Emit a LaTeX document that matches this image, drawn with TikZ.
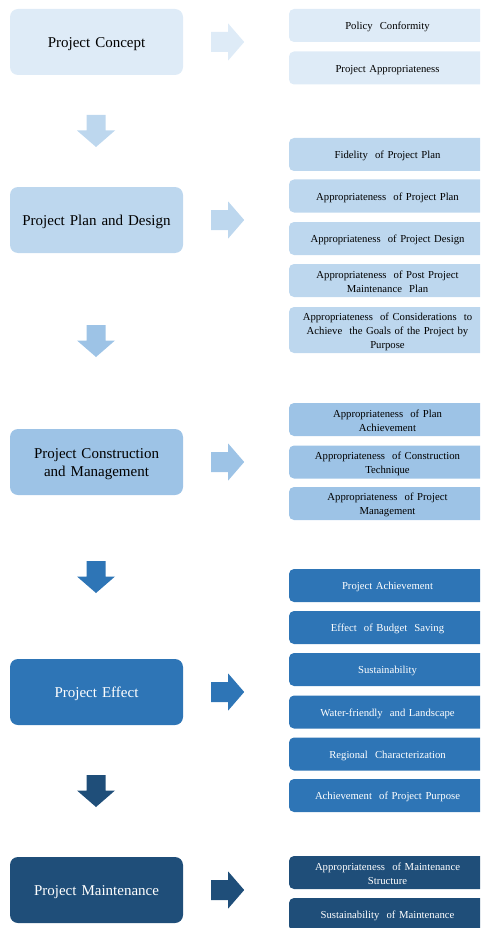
\documentclass[tikz,border=0pt]{standalone}
\usepackage{fontspec}
\setmainfont{Liberation Serif}
\usetikzlibrary{calc}

\definecolor{cA}{HTML}{DEEBF7}
\definecolor{cB}{HTML}{BDD7EE}
\definecolor{cC}{HTML}{9DC3E6}
\definecolor{cD}{HTML}{2E75B6}
\definecolor{cE}{HTML}{1F4E79}

\tikzset{
  stage/.style={rounded corners=8pt, minimum width=173pt, minimum height=66pt,
    inner sep=0pt, text width=165pt, align=center,
    font=\fontsize{15}{18}\selectfont,
    execute at begin node={\rule{0pt}{14.5pt}}},
  item/.style={rounded corners=5pt, minimum width=197pt, minimum height=33pt,
    inner sep=0pt, text width=182pt, align=center,
    font=\fontsize{10.7}{14}\selectfont,
    execute at begin node={\rule{0pt}{11pt}}},
  tall/.style={minimum height=46pt},
  rarrow/.pic={\fill[#1] (0,-10) -- (17,-10) -- (17,-18.5) -- (33,0) -- (17,18.5) -- (17,10) -- (0,10) -- cycle;},
  darrow/.pic={\fill[#1] (-9.5,0) -- (9.5,0) -- (9.5,15.5) -- (19,15.5) -- (0,32) -- (-19,15.5) -- (-9.5,15.5) -- cycle;}
}

\begin{document}
\begin{tikzpicture}[x=1pt, y=-1pt]
\useasboundingbox (0,0) rectangle (480,928);
\clip (0,0) rectangle (480,928);

% stages
\node[stage, fill=cA] (s1) at (96.5,42) {Project Concept};
\node[stage, fill=cB] (s2) at (96.5,220) {Project Plan and Design};
\node[stage, fill=cC] (s3) at (96.5,462) {Project Construction\\and Management};
\node[stage, fill=cD, text=white] (s4) at (96.5,692) {Project Effect};
\node[stage, fill=cE, text=white] (s5) at (96.5,890) {Project Maintenance};

% arrows from each stage to its criteria
\pic at ($(s1.east)+(28,0)$) {rarrow=cA};
\pic at ($(s2.east)+(28,0)$) {rarrow=cB};
\pic at ($(s3.east)+(28,0)$) {rarrow=cC};
\pic at ($(s4.east)+(28,0)$) {rarrow=cD};
\pic at ($(s5.east)+(28,0)$) {rarrow=cE};

% arrows between stages
\pic at (96,115) {darrow=cB};
\pic at (96,325) {darrow=cC};
\pic at (96,561) {darrow=cD};
\pic at (96,775) {darrow=cE};

% criteria: concept
\node[item, fill=cA] (a1) at (387.5,25.5) {Policy\ \ Conformity};
\node[item, fill=cA] (a2) at (387.5,68) {Project Appropriateness};

% criteria: plan and design
\node[item, fill=cB] (b1) at (387.5,154.5) {Fidelity\ \ of Project Plan};
\node[item, fill=cB] (b2) at (387.5,196) {Appropriateness\ \ of Project Plan};
\node[item, fill=cB] (b3) at (387.5,238.5) {Appropriateness\ \ of Project Design};
\node[item, fill=cB] (b4) at (387.5,280.5) {Appropriateness\ \ of Post Project\\Maintenance\ \ Plan};
\node[item, fill=cB, tall] (b5) at (387.5,330) {Appropriateness\ \ of Considerations\ \ to\\Achieve\ \ the Goals of the Project by\\Purpose};

% criteria: construction and management
\node[item, fill=cC] (c1) at (387.5,419.5) {Appropriateness\ \ of Plan\\Achievement};
\node[item, fill=cC] (c2) at (387.5,462) {Appropriateness\ \ of Construction\\Technique};
\node[item, fill=cC] (c3) at (387.5,503.5) {Appropriateness\ \ of Project\\Management};

% criteria: effect
\node[item, fill=cD, text=white] (d1) at (387.5,585.5) {Project Achievement};
\node[item, fill=cD, text=white] (d2) at (387.5,627.5) {Effect\ \ of Budget\ \ Saving};
\node[item, fill=cD, text=white] (d3) at (387.5,669.5) {Sustainability};
\node[item, fill=cD, text=white] (d4) at (387.5,712) {Water-friendly\ \ and Landscape};
\node[item, fill=cD, text=white] (d5) at (387.5,754) {Regional\ \ Characterization};
\node[item, fill=cD, text=white] (d6) at (387.5,795.5) {Achievement\ \ of Project Purpose};

% criteria: maintenance
\node[item, fill=cE, text=white] (e1) at (387.5,872.5) {Appropriateness\ \ of Maintenance\\Structure};
\node[item, fill=cE, text=white] (e2) at (387.5,914.5) {Sustainability\ \ of Maintenance};
\end{tikzpicture}
\end{document}
